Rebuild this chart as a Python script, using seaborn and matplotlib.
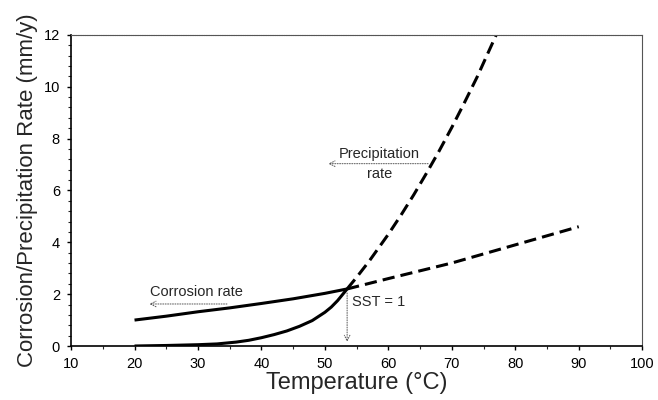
import matplotlib
matplotlib.use("Agg")
import matplotlib.pyplot as plt
import seaborn as sns
from matplotlib.ticker import MultipleLocator

# Data
corr_solid_T = [20, 25, 30, 35, 40, 45, 50, 53.5]
corr_solid = [1.0, 1.15, 1.32, 1.47, 1.64, 1.82, 2.03, 2.2]
corr_dash_T = [53.5, 60, 70, 80, 90]
corr_dash = [2.2, 2.6, 3.2, 3.9, 4.6]

prec_solid_T = [20, 25, 30, 33, 36, 38, 40, 42, 44, 46, 48, 50, 51, 52, 53.5]
prec_solid = [0.0, 0.02, 0.05, 0.08, 0.15, 0.22, 0.32, 0.44, 0.58, 0.76, 0.98,
              1.3, 1.5, 1.75, 2.2]
prec_dash_T = [53.5, 55, 57, 60, 62, 64, 66, 68, 70, 72, 74, 77]
prec_dash = [2.2, 2.65, 3.28, 4.31, 5.05, 5.83, 6.66, 7.52, 8.43, 9.39, 10.38, 12.0]

x_ticks = [10, 20, 30, 40, 50, 60, 70, 80, 90, 100]
y_ticks = [0, 2, 4, 6, 8, 10, 12]

sns.set_style("ticks")
plt.rcParams['font.family'] = ['Liberation Sans', 'DejaVu Sans']

fig = plt.figure(figsize=(6.58, 4.0), dpi=100)
ax = fig.add_axes([0.108, 0.135, 0.868, 0.778])

lw = 2.2
dash = (4.0, 2.0)
sns.lineplot(x=corr_solid_T, y=corr_solid, ax=ax, color='black', lw=lw)
sns.lineplot(x=prec_solid_T, y=prec_solid, ax=ax, color='black', lw=lw)
sns.lineplot(x=corr_dash_T, y=corr_dash, ax=ax, color='black', lw=lw)
ax.lines[-1].set_dashes(dash)
sns.lineplot(x=prec_dash_T, y=prec_dash, ax=ax, color='black', lw=lw)
ax.lines[-1].set_dashes(dash)
for ln in ax.lines:
    ln.set_solid_capstyle('butt')
    ln.set_dash_capstyle('butt')

ax.set_xlim(10, 100)
ax.set_ylim(0, 12)
ax.set_xticks(x_ticks)
ax.set_yticks(y_ticks)
ax.xaxis.set_minor_locator(MultipleLocator(5))
ax.yaxis.set_minor_locator(MultipleLocator(0.4))
ax.tick_params(axis='both', which='major', direction='out', length=3, width=1,
               labelsize=10.5, colors='black', pad=5)
ax.tick_params(axis='both', which='minor', direction='out', length=2, width=0.8)

for s in ['left', 'bottom']:
    ax.spines[s].set_color('black')
    ax.spines[s].set_linewidth(1.2)
for s in ['top', 'right']:
    ax.spines[s].set_visible(True)
    ax.spines[s].set_color('#555555')
    ax.spines[s].set_linewidth(0.8)
ax.spines['top'].set_linestyle((0, (1, 0.6)))

ax.set_xlabel('Temperature (°C)', fontsize=17, labelpad=1)
ax.set_ylabel('Corrosion/Precipitation Rate (mm/y)', fontsize=16, labelpad=4)

arrow_kw = dict(arrowstyle='->', color='#555555', lw=0.7, linestyle=(0, (1, 1.5)))

ax.annotate('', xy=(21.9, 1.62), xytext=(35, 1.62), arrowprops=arrow_kw)
ax.text(22.4, 2.08, 'Corrosion rate', fontsize=10.5, ha='left', va='center')

ax.annotate('', xy=(50.1, 7.03), xytext=(66.7, 7.03), arrowprops=arrow_kw)
ax.text(58.6, 7.4, 'Precipitation', fontsize=10.5, ha='center', va='center')
ax.text(58.6, 6.65, 'rate', fontsize=10.5, ha='center', va='center')

ax.annotate('', xy=(53.5, 0.05), xytext=(53.5, 2.15), arrowprops=arrow_kw)
ax.text(54.2, 1.71, 'SST = 1', fontsize=10.5, ha='left', va='center')

fig.savefig('out.png', dpi=100)
